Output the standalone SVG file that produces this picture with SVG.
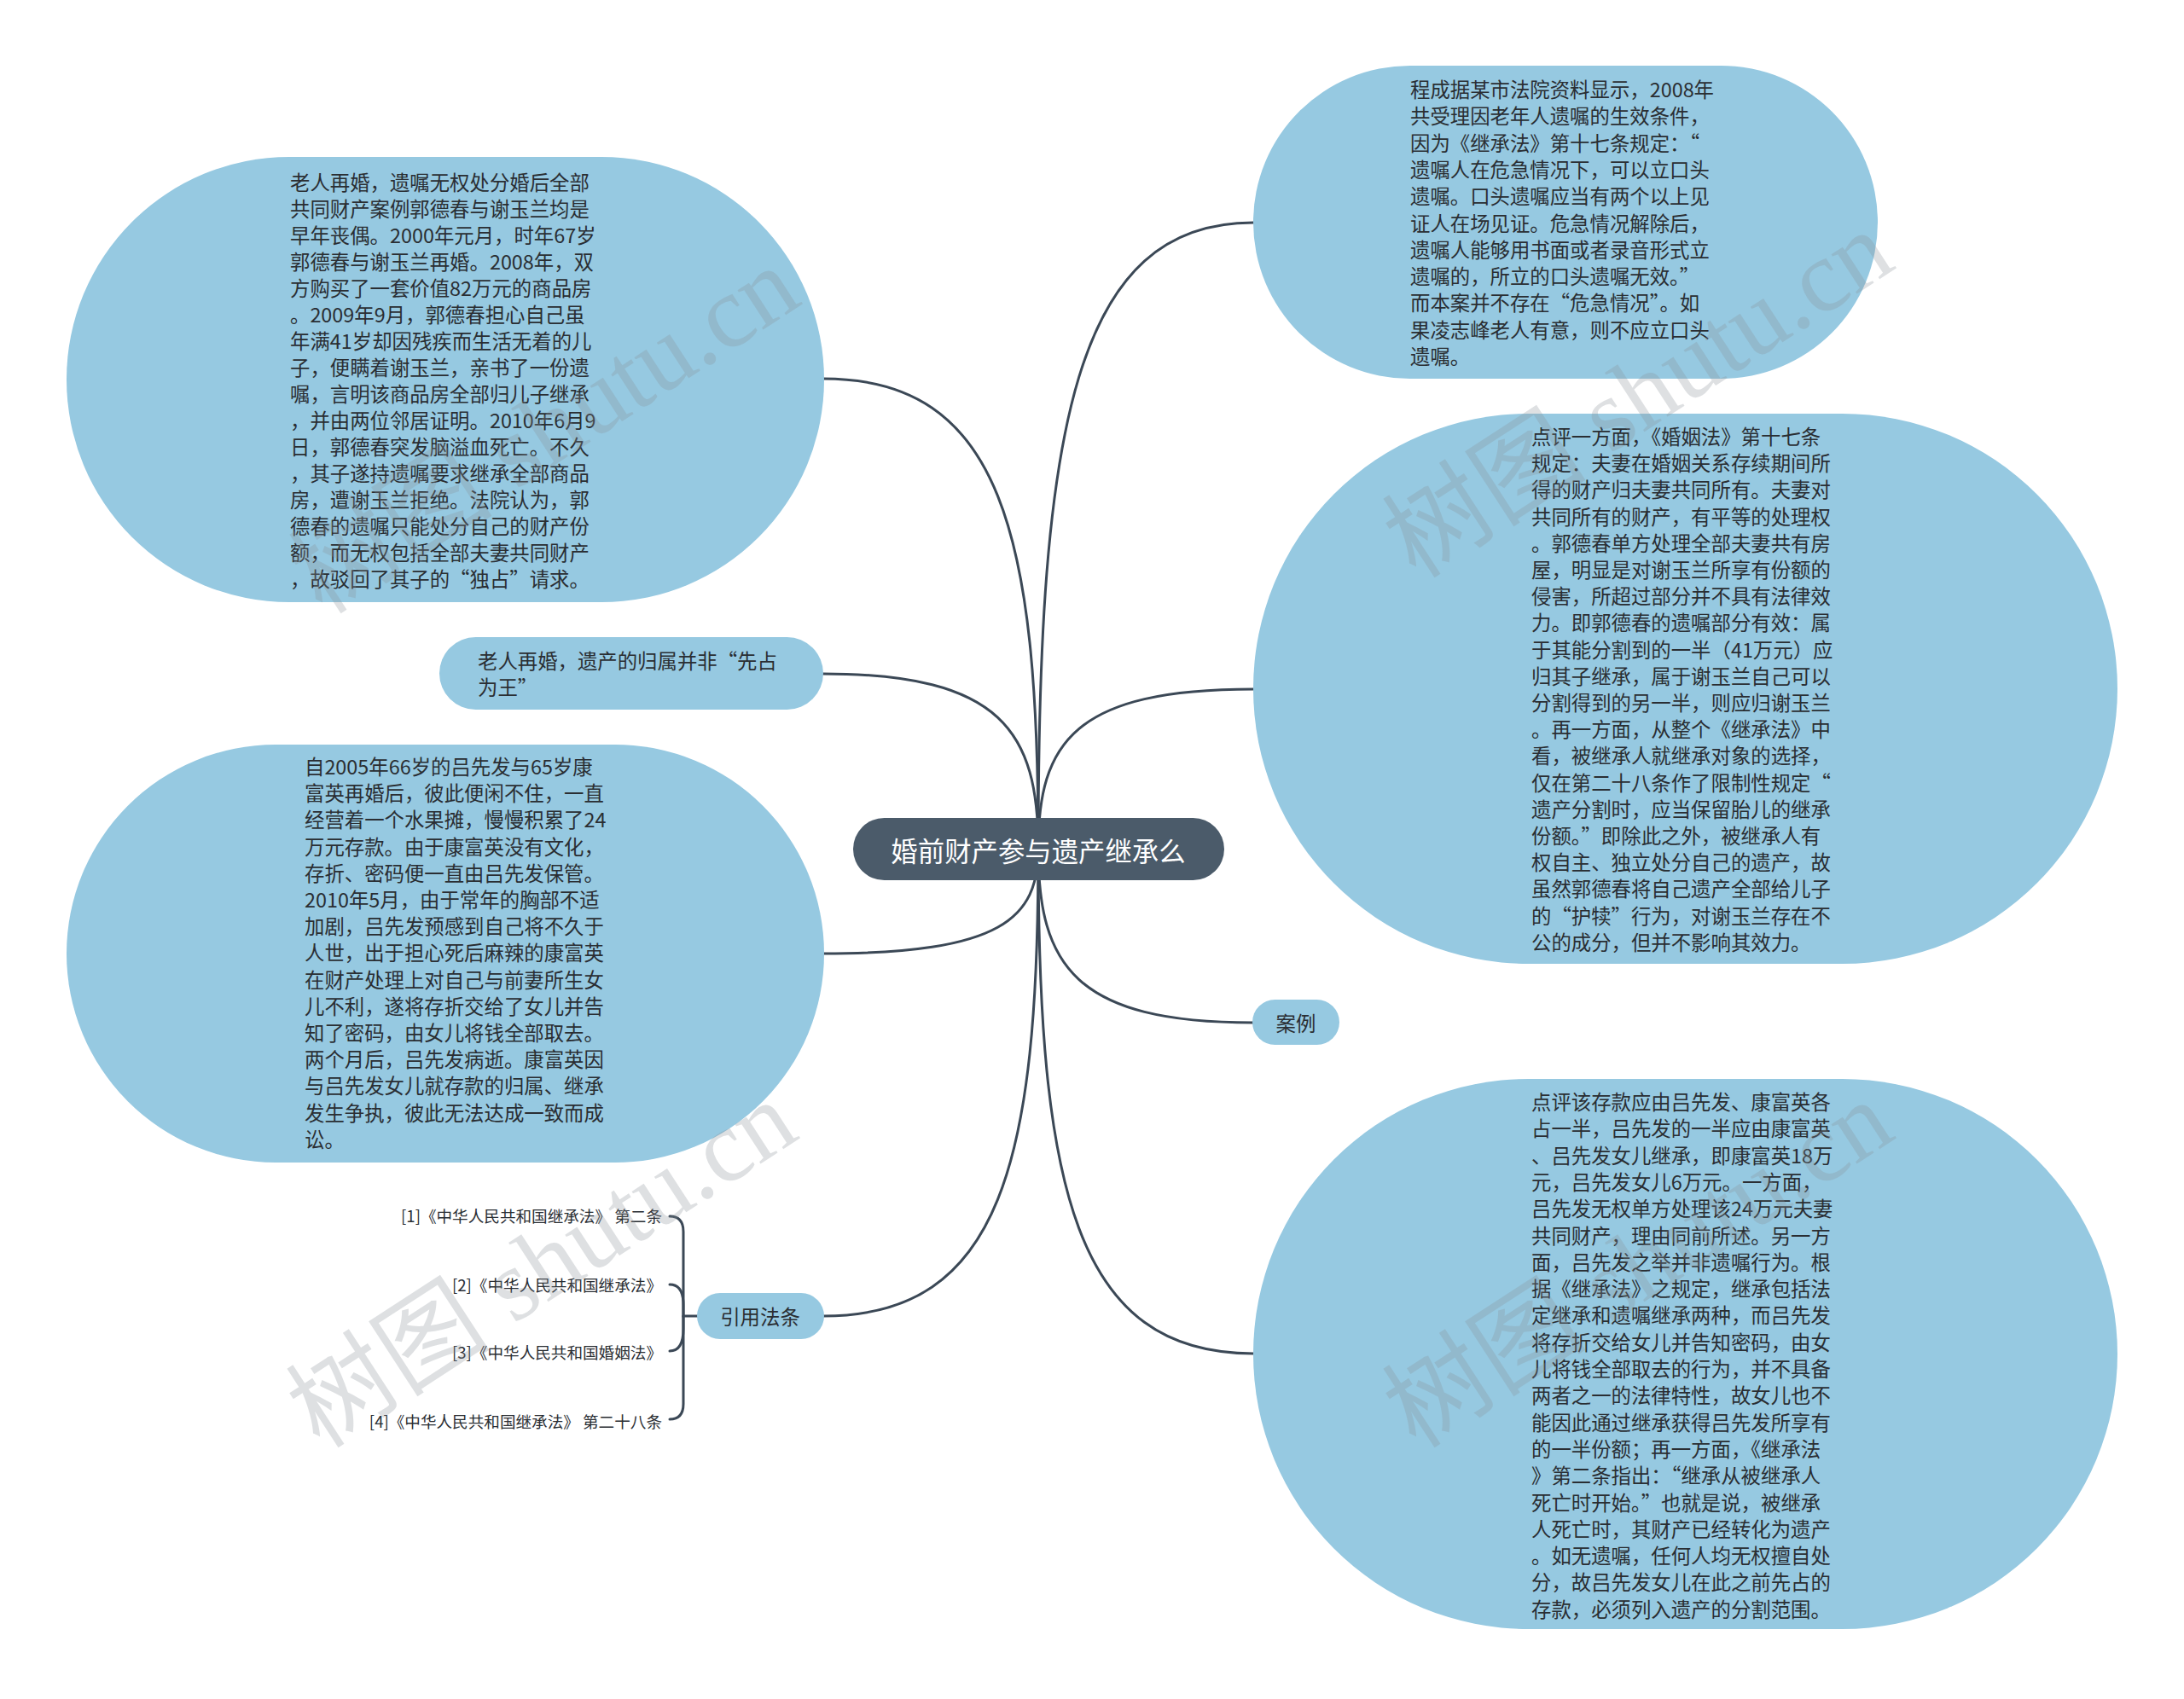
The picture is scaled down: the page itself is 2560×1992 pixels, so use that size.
<svg xmlns="http://www.w3.org/2000/svg" width="2560" height="1992" viewBox="0 0 2560 1992">
<defs>
<style>
.bub{fill:#96c9e1;}
.ctr{fill:#4b5b6a;}
.t{font-family:"Noto Sans CJK SC","Noto Sans",sans-serif;font-size:23.4px;fill:#2a2e33;dominant-baseline:central;}
.ct{font-family:"Noto Sans CJK SC","Noto Sans",sans-serif;font-size:31.4px;fill:#ffffff;dominant-baseline:central;text-anchor:middle;}
.ref{font-family:"Noto Sans CJK SC","Noto Sans",sans-serif;font-size:18.6px;fill:#2a2e33;dominant-baseline:central;text-anchor:end;}
.ln{fill:none;stroke:#3b4856;stroke-width:3;stroke-linecap:round;}
.wm{font-family:"Liberation Serif","Noto Sans CJK SC",serif;font-size:120px;fill:#8a8f96;fill-opacity:0.28;}
</style>
</defs>
<rect width="2560" height="1992" fill="#ffffff"/>
<g id="connectors">
<path class="ln" d="M1217,995 C1217,500 1260,261 1469,261"/>
<path class="ln" d="M1217,995 C1217,870 1260,808 1469,808"/>
<path class="ln" d="M1217,995 C1217,1132 1260,1199 1469,1199"/>
<path class="ln" d="M1217,995 C1217,1392 1260,1587 1469,1587"/>
<path class="ln" d="M1217,995 C1217,626 1174,444 965,444"/>
<path class="ln" d="M1217,995 C1217,858 1174,790 965,790"/>
<path class="ln" d="M1217,995 C1217,1077 1174,1118 965,1118"/>
<path class="ln" d="M1217,995 C1217,1362 1174,1543 965,1543"/>
<path class="ln" d="M818,1543 H801 V1444 Q801,1426 785,1426"/>
<path class="ln" d="M801,1543 V1530 Q801,1506 785,1506"/>
<path class="ln" d="M801,1543 V1558 Q801,1584 785,1584"/>
<path class="ln" d="M801,1543 V1646 Q801,1664 785,1664"/>
</g>
<g id="n-center">
<rect class="ctr" x="1000" y="959" width="435" height="73" rx="36.5"/>
<text class="ct" x="1217" y="996">婚前财产参与遗产继承么</text>
</g>
<g id="n-tl">
<rect class="bub" x="78" y="184" width="888" height="522" rx="261"/>
<text class="t" x="340" y="213">
<tspan x="340" dy="0">老人再婚，遗嘱无权处分婚后全部</tspan>
<tspan x="340" dy="31">共同财产案例郭德春与谢玉兰均是</tspan>
<tspan x="340" dy="31">早年丧偶。2000年元月，时年67岁</tspan>
<tspan x="340" dy="31">郭德春与谢玉兰再婚。2008年，双</tspan>
<tspan x="340" dy="31">方购买了一套价值82万元的商品房</tspan>
<tspan x="340" dy="31">。2009年9月，郭德春担心自己虽</tspan>
<tspan x="340" dy="31">年满41岁却因残疾而生活无着的儿</tspan>
<tspan x="340" dy="31">子，便瞒着谢玉兰，亲书了一份遗</tspan>
<tspan x="340" dy="31">嘱，言明该商品房全部归儿子继承</tspan>
<tspan x="340" dy="31">，并由两位邻居证明。2010年6月9</tspan>
<tspan x="340" dy="31">日，郭德春突发脑溢血死亡。不久</tspan>
<tspan x="340" dy="31">，其子遂持遗嘱要求继承全部商品</tspan>
<tspan x="340" dy="31">房，遭谢玉兰拒绝。法院认为，郭</tspan>
<tspan x="340" dy="31">德春的遗嘱只能处分自己的财产份</tspan>
<tspan x="340" dy="31">额，而无权包括全部夫妻共同财产</tspan>
<tspan x="340" dy="31">，故驳回了其子的“独占”请求。</tspan>
</text>
</g>
<g id="n-old">
<rect class="bub" x="515" y="747" width="450" height="85" rx="42.5"/>
<text class="t" x="560" y="774">
<tspan x="560" dy="0">老人再婚，遗产的归属并非“先占</tspan>
<tspan x="560" dy="31">为王”</tspan>
</text>
</g>
<g id="n-lm">
<rect class="bub" x="78" y="873" width="888" height="490" rx="245"/>
<text class="t" x="357" y="898">
<tspan x="357" dy="0">自2005年66岁的吕先发与65岁康</tspan>
<tspan x="357" dy="31.2">富英再婚后，彼此便闲不住，一直</tspan>
<tspan x="357" dy="31.2">经营着一个水果摊，慢慢积累了24</tspan>
<tspan x="357" dy="31.2">万元存款。由于康富英没有文化，</tspan>
<tspan x="357" dy="31.2">存折、密码便一直由吕先发保管。</tspan>
<tspan x="357" dy="31.2">2010年5月，由于常年的胸部不适</tspan>
<tspan x="357" dy="31.2">加剧，吕先发预感到自己将不久于</tspan>
<tspan x="357" dy="31.2">人世，出于担心死后麻辣的康富英</tspan>
<tspan x="357" dy="31.2">在财产处理上对自己与前妻所生女</tspan>
<tspan x="357" dy="31.2">儿不利，遂将存折交给了女儿并告</tspan>
<tspan x="357" dy="31.2">知了密码，由女儿将钱全部取去。</tspan>
<tspan x="357" dy="31.2">两个月后，吕先发病逝。康富英因</tspan>
<tspan x="357" dy="31.2">与吕先发女儿就存款的归属、继承</tspan>
<tspan x="357" dy="31.2">发生争执，彼此无法达成一致而成</tspan>
<tspan x="357" dy="31.2">讼。</tspan>
</text>
</g>
<g id="n-cite">
<rect class="bub" x="817" y="1516" width="149" height="54" rx="27"/>
<text class="t" x="891" y="1543" text-anchor="middle">引用法条</text>
</g>
<g id="n-ref1"><text class="ref" x="776" y="1424">[1]《中华人民共和国继承法》 第二条</text></g>
<g id="n-ref2"><text class="ref" x="776" y="1505">[2]《中华人民共和国继承法》</text></g>
<g id="n-ref3"><text class="ref" x="776" y="1584">[3]《中华人民共和国婚姻法》</text></g>
<g id="n-ref4"><text class="ref" x="776" y="1665">[4]《中华人民共和国继承法》 第二十八条</text></g>
<g id="n-tr">
<rect class="bub" x="1469" y="77" width="732" height="367" rx="183.5"/>
<text class="t" x="1653" y="104">
<tspan x="1653" dy="0">程成据某市法院资料显示，2008年</tspan>
<tspan x="1653" dy="31.3">共受理因老年人遗嘱的生效条件，</tspan>
<tspan x="1653" dy="31.3">因为《继承法》第十七条规定：“</tspan>
<tspan x="1653" dy="31.3">遗嘱人在危急情况下，可以立口头</tspan>
<tspan x="1653" dy="31.3">遗嘱。口头遗嘱应当有两个以上见</tspan>
<tspan x="1653" dy="31.3">证人在场见证。危急情况解除后，</tspan>
<tspan x="1653" dy="31.3">遗嘱人能够用书面或者录音形式立</tspan>
<tspan x="1653" dy="31.3">遗嘱的，所立的口头遗嘱无效。”</tspan>
<tspan x="1653" dy="31.3">而本案并不存在“危急情况”。如</tspan>
<tspan x="1653" dy="31.3">果凌志峰老人有意，则不应立口头</tspan>
<tspan x="1653" dy="31.3">遗嘱。</tspan>
</text>
</g>
<g id="n-rm">
<rect class="bub" x="1469" y="485" width="1013" height="645" rx="322.5"/>
<text class="t" x="1795" y="511">
<tspan x="1795" dy="0">点评一方面，《婚姻法》第十七条</tspan>
<tspan x="1795" dy="31.2">规定：夫妻在婚姻关系存续期间所</tspan>
<tspan x="1795" dy="31.2">得的财产归夫妻共同所有。夫妻对</tspan>
<tspan x="1795" dy="31.2">共同所有的财产，有平等的处理权</tspan>
<tspan x="1795" dy="31.2">。郭德春单方处理全部夫妻共有房</tspan>
<tspan x="1795" dy="31.2">屋，明显是对谢玉兰所享有份额的</tspan>
<tspan x="1795" dy="31.2">侵害，所超过部分并不具有法律效</tspan>
<tspan x="1795" dy="31.2">力。即郭德春的遗嘱部分有效：属</tspan>
<tspan x="1795" dy="31.2">于其能分割到的一半（41万元）应</tspan>
<tspan x="1795" dy="31.2">归其子继承，属于谢玉兰自己可以</tspan>
<tspan x="1795" dy="31.2">分割得到的另一半，则应归谢玉兰</tspan>
<tspan x="1795" dy="31.2">。再一方面，从整个《继承法》中</tspan>
<tspan x="1795" dy="31.2">看，被继承人就继承对象的选择，</tspan>
<tspan x="1795" dy="31.2">仅在第二十八条作了限制性规定“</tspan>
<tspan x="1795" dy="31.2">遗产分割时，应当保留胎儿的继承</tspan>
<tspan x="1795" dy="31.2">份额。”即除此之外，被继承人有</tspan>
<tspan x="1795" dy="31.2">权自主、独立处分自己的遗产，故</tspan>
<tspan x="1795" dy="31.2">虽然郭德春将自己遗产全部给儿子</tspan>
<tspan x="1795" dy="31.2">的“护犊”行为，对谢玉兰存在不</tspan>
<tspan x="1795" dy="31.2">公的成分，但并不影响其效力。</tspan>
</text>
</g>
<g id="n-case">
<rect class="bub" x="1468" y="1172" width="102" height="53" rx="26.5"/>
<text class="t" x="1519" y="1199" text-anchor="middle">案例</text>
</g>
<g id="n-rb">
<rect class="bub" x="1469" y="1265" width="1013" height="645" rx="322.5"/>
<text class="t" x="1795" y="1291">
<tspan x="1795" dy="0">点评该存款应由吕先发、康富英各</tspan>
<tspan x="1795" dy="31.3">占一半，吕先发的一半应由康富英</tspan>
<tspan x="1795" dy="31.3">、吕先发女儿继承，即康富英18万</tspan>
<tspan x="1795" dy="31.3">元，吕先发女儿6万元。一方面，</tspan>
<tspan x="1795" dy="31.3">吕先发无权单方处理该24万元夫妻</tspan>
<tspan x="1795" dy="31.3">共同财产，理由同前所述。另一方</tspan>
<tspan x="1795" dy="31.3">面，吕先发之举并非遗嘱行为。根</tspan>
<tspan x="1795" dy="31.3">据《继承法》之规定，继承包括法</tspan>
<tspan x="1795" dy="31.3">定继承和遗嘱继承两种，而吕先发</tspan>
<tspan x="1795" dy="31.3">将存折交给女儿并告知密码，由女</tspan>
<tspan x="1795" dy="31.3">儿将钱全部取去的行为，并不具备</tspan>
<tspan x="1795" dy="31.3">两者之一的法律特性，故女儿也不</tspan>
<tspan x="1795" dy="31.3">能因此通过继承获得吕先发所享有</tspan>
<tspan x="1795" dy="31.3">的一半份额；再一方面，《继承法</tspan>
<tspan x="1795" dy="31.3">》第二条指出：“继承从被继承人</tspan>
<tspan x="1795" dy="31.3">死亡时开始。”也就是说，被继承</tspan>
<tspan x="1795" dy="31.3">人死亡时，其财产已经转化为遗产</tspan>
<tspan x="1795" dy="31.3">。如无遗嘱，任何人均无权擅自处</tspan>
<tspan x="1795" dy="31.3">分，故吕先发女儿在此之前先占的</tspan>
<tspan x="1795" dy="31.3">存款，必须列入遗产的分割范围。</tspan>
</text>
</g>
<g id="watermarks">
<text class="wm" transform="translate(378,722) rotate(-33)">树图 shutu.cn</text>
<text class="wm" transform="translate(1660,680) rotate(-33)">树图 shutu.cn</text>
<text class="wm" transform="translate(375,1700) rotate(-33)">树图 shutu.cn</text>
<text class="wm" transform="translate(1660,1700) rotate(-33)">树图 shutu.cn</text>
</g>
</svg>
